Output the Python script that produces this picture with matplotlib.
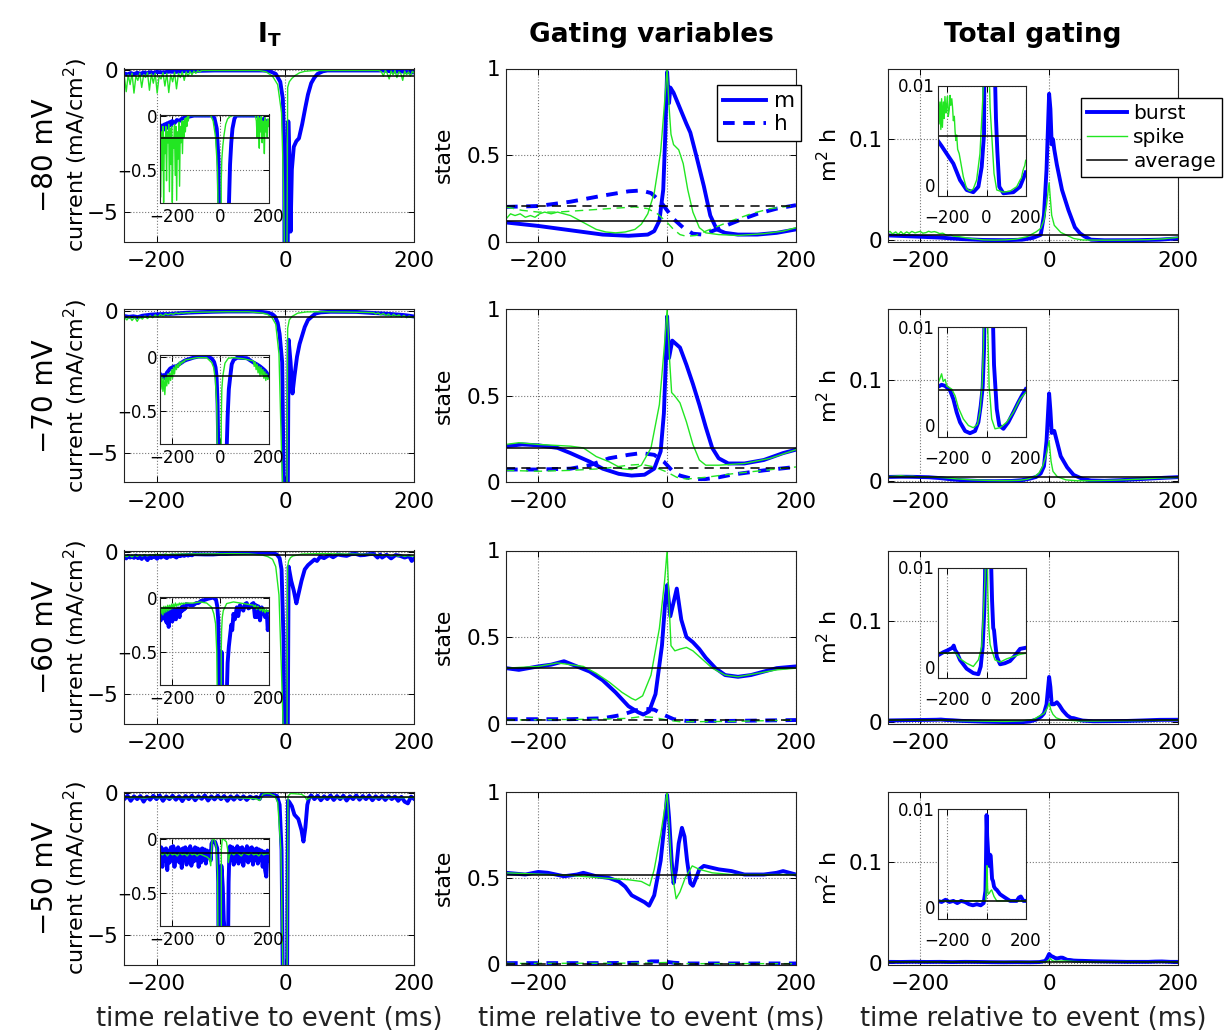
import numpy as np
import matplotlib
matplotlib.use("Agg")
import matplotlib.pyplot as plt
from matplotlib.lines import Line2D

plt.rcParams['font.family'] = ['DejaVu Sans']
plt.rcParams['mathtext.default'] = 'regular'


def series(*parts):
    # parts: (t0, t1, values) evenly spaced noisy stretch, or list of (t, v) pairs
    ts, vs = [], []
    for p in parts:
        if isinstance(p, tuple):
            t0, t1, vals = p
            ts += list(np.linspace(t0, t1, len(vals)))
            vs += list(vals)
        else:
            for t, v in p:
                ts.append(t)
                vs.append(v)
    return np.array(ts), np.array(vs)


row_names = ['\u221280 mV', '\u221270 mV', '\u221260 mV', '\u221250 mV']

# ---------------- I_T (current) ----------------
it80_burst = series(
    (-250, -200, [-0.1, -0.14, -0.09, -0.13, -0.08, -0.12, -0.07, -0.1, -0.06, -0.09, -0.05]),
    [(-190, -0.07), (-180, -0.04), (-170, -0.05), (-160, -0.03), (-150, -0.02), (-130, -0.01),
     (-110, 0), (-35, 0), (-25, -0.02), (-15, -0.12), (-8, -0.4), (-4, -1.0), (-2, -2.5),
     (-1, -9), (3, -9), (4.5, -1.8), (6.5, -3.5), (8, -5.7), (10, -3.5), (13, -2.7), (17, -2.5),
     (21, -2.4), (26, -1.9), (31, -1.3), (35, -0.85), (40, -0.45), (45, -0.25), (50, -0.12),
     (58, -0.03), (65, 0), (150, 0), (160, -0.02), (170, -0.04), (180, -0.03), (190, -0.06),
     (200, -0.07)])
it80_spike = series(
    (-250, -130, [-0.2, -0.75, -0.15, -0.5, -0.1, -0.8, -0.2, -0.35, -0.1, -0.6,
                  -0.15, -0.25, -0.08, -0.7, -0.12, -0.45, -0.1, -0.8, -0.2, -0.3,
                  -0.08, -0.55, -0.1, -0.78, -0.15, -0.4, -0.06, -0.65, -0.1, -0.25,
                  -0.05, -0.35, -0.05, -0.2, -0.03, -0.15, -0.02, -0.1, -0.01, -0.05, 0.0]),
    [(-120, 0), (-40, 0), (-30, -0.05), (-20, -0.2), (-12, -0.5), (-6, -1.5), (-3, -4),
     (0, -9), (2, -9), (3.5, -0.6), (6, -0.4), (10, -0.28), (15, -0.18), (22, -0.08),
     (30, -0.03), (45, 0), (145, 0)],
    (149, 200, [-0.05, -0.2, 0, -0.1, -0.3, -0.02, -0.15, 0, -0.25, -0.05, -0.1, -0.35,
                -0.02, -0.15, -0.05, -0.2, -0.03, -0.1]))
it80_avg = -0.21

it70_burst = series(
    [(-250, -0.16), (-243, -0.19), (-236, -0.17), (-229, -0.2), (-222, -0.15), (-215, -0.13),
     (-208, -0.11), (-200, -0.1), (-190, -0.09), (-181, -0.09), (-170, -0.07), (-160, -0.055),
     (-150, -0.04), (-140, -0.03), (-125, -0.02), (-112, -0.01), (-90, 0), (-50, 0),
     (-35, -0.02), (-26, -0.05), (-20, -0.1), (-16, -0.18), (-12, -0.4), (-9, -0.8),
     (-5, -1.8), (-1, -9), (3, -9), (5, -1.0), (8, -1.8), (11, -2.9), (14, -2.3), (18, -1.6),
     (22, -1.15), (26, -0.85), (30, -0.55), (35, -0.3), (40, -0.2), (47, -0.07), (55, -0.03),
     (70, -0.01), (110, -0.015), (137, -0.055), (150, -0.07), (164, -0.09), (175, -0.11),
     (185, -0.13), (192, -0.15), (200, -0.18)])
it70_spike = series(
    (-250, -142, [-0.21, -0.3, -0.18, -0.32, -0.2, -0.35, -0.19, -0.27, -0.16, -0.25,
                  -0.15, -0.22, -0.12, -0.2, -0.1, -0.16, -0.08, -0.12, -0.07, -0.1,
                  -0.05, -0.08, -0.05, -0.06, -0.04, -0.05, -0.03, -0.03]),
    [(-120, -0.02), (-98, -0.01), (-57, -0.01), (-36, -0.055), (-28, -0.1), (-21, -0.21),
     (-15, -0.45), (-10, -1.5), (-6, -5), (0, -9), (2, -9), (3.5, -0.6), (6, -0.3),
     (10, -0.18), (19, -0.06), (33, -0.015), (54, -0.01), (95, -0.02), (137, -0.04)],
    (140, 200, [-0.09, -0.05, -0.12, -0.07, -0.15, -0.09, -0.18, -0.1, -0.17, -0.12,
                -0.2, -0.14, -0.22, -0.16, -0.21, -0.2]))
it70_avg = -0.18

it60_burst = series(
    (-250, -142, [-0.15, -0.21, -0.12, -0.18, -0.14, -0.19, -0.11, -0.2, -0.15, -0.23,
                  -0.13, -0.19, -0.27, -0.14, -0.2, -0.12, -0.17, -0.22, -0.13, -0.18,
                  -0.11, -0.16, -0.2, -0.12, -0.15, -0.1, -0.14, -0.18, -0.1, -0.13,
                  -0.09, -0.12, -0.08, -0.11, -0.07, -0.1, -0.06]),
    [(-125, -0.07), (-112, -0.07), (-100, -0.05), (-91, -0.05), (-80, -0.03), (-70, -0.025),
     (-50, -0.01), (-30, 0.0), (-18, -0.02), (-13, -0.08), (-9, -0.2), (-6, -0.6), (-3, -3),
     (-1, -9), (3, -9), (5, -0.5), (9, -1.0), (13, -1.35), (17, -1.8), (20, -1.5), (25, -1.0),
     (30, -0.6), (35, -0.45), (40, -0.35), (45, -0.25), (49, -0.3), (54, -0.15), (60, -0.2),
     (68, -0.09), (74, -0.17), (81, -0.07), (88, -0.1), (95, -0.12), (102, -0.06),
     (109, -0.05), (116, -0.1), (123, -0.09), (130, -0.06), (137, -0.05), (143, -0.18),
     (147, -0.07), (150, -0.18), (157, -0.08), (164, -0.21), (171, -0.09), (178, -0.12),
     (185, -0.18), (192, -0.13), (196, -0.3), (200, -0.2)])
it60_spike = series(
    (-250, -142, [-0.1, -0.15, -0.09, -0.16, -0.08, -0.14, -0.08, -0.13, -0.07, -0.12,
                  -0.07, -0.11, -0.06, -0.1, -0.06, -0.09, -0.05, -0.08, -0.06, -0.07,
                  -0.05, -0.07, -0.05, -0.06, -0.05, -0.06, -0.05, -0.05]),
    [(-112, -0.05), (-84, -0.04), (-57, -0.05), (-36, -0.09), (-27, -0.15), (-20, -0.24),
     (-15, -0.5), (-10, -1.5), (-5, -5), (0, -9), (2, -9), (3.5, -0.5), (5, -0.3), (8, -0.18),
     (12, -0.12), (26, -0.055), (54, -0.04), (95, -0.055), (137, -0.07)],
    (140, 200, [-0.09, -0.07, -0.11, -0.08, -0.1, -0.12, -0.09, -0.13, -0.1, -0.14, -0.11,
                -0.13, -0.12]))
it60_avg = -0.098

it50_burst = series(
    (-250, -40, [-0.2, -0.08, -0.26, -0.1, -0.2, -0.09, -0.29, -0.11, -0.22, -0.08,
                 -0.2, -0.07, -0.26, -0.1, -0.2, -0.08, -0.22, -0.1, -0.27, -0.09,
                 -0.2, -0.08, -0.24, -0.1, -0.19, -0.07, -0.25, -0.1, -0.21, -0.08,
                 -0.2, -0.09, -0.26, -0.1, -0.22, -0.09, -0.2, -0.1, -0.23, -0.11,
                 -0.17, -0.12, -0.2]),
    [(-37, -0.05), (-32, -0.025), (-22, -0.03), (-13, -0.09), (-9, -0.4), (-6, -2),
     (-3, -9), (2, -9), (4, -0.25), (6, -0.3), (10, -0.45), (14, -0.75), (20, -0.9),
     (25, -1.3), (28, -1.7), (31, -1.2), (34, -0.4), (37, -0.15), (40, -0.07)],
    (45, 200, [-0.2, -0.08, -0.24, -0.1, -0.2, -0.07, -0.23, -0.09, -0.2, -0.08,
               -0.25, -0.1, -0.2, -0.07, -0.22, -0.09, -0.2, -0.08, -0.24, -0.1,
               -0.2, -0.09, -0.23, -0.1, -0.2, -0.11, -0.26, -0.12, -0.29, -0.35,
               -0.11, -0.2]))
it50_spike = series(
    (-250, -45, [-0.12, -0.15, -0.13, -0.16, -0.13, -0.15, -0.14, -0.16, -0.13, -0.15,
                 -0.14, -0.16, -0.13, -0.15, -0.14, -0.16, -0.14, -0.15, -0.16, -0.17, -0.19]),
    [(-40, -0.25), (-35, -0.03), (-30, 0.0), (-24, -0.01), (-17, -0.08), (-12, -0.3),
     (-7, -2), (-2, -9), (2, -9), (4, -0.1), (8, 0.0), (15, -0.01), (25, -0.03), (30, -0.1),
     (33, -0.22), (38, -0.15)],
    (45, 200, [-0.13, -0.15, -0.13, -0.14, -0.16, -0.13, -0.14, -0.15, -0.13, -0.15,
               -0.14, -0.16, -0.13, -0.15, -0.14, -0.14]))
it50_avg = -0.137

# ---------------- gating variables m, h ----------------
m80_burst = series([(-250, 0.11), (-200, 0.09), (-150, 0.065), (-100, 0.04), (-60, 0.033),
                    (-30, 0.04), (-20, 0.06), (-12, 0.12), (-6, 0.3), (-3, 0.6), (0, 0.98),
                    (2, 0.85), (3, 0.8), (5, 0.89), (10, 0.86), (20, 0.77), (30, 0.68),
                    (36, 0.63), (45, 0.5), (57, 0.32), (67, 0.15), (77, 0.07), (90, 0.05),
                    (110, 0.04), (140, 0.04), (170, 0.05), (200, 0.07)])
m80_spike = series([(-250, 0.13), (-243, 0.16), (-236, 0.15), (-228, 0.16), (-220, 0.14),
                    (-212, 0.15), (-205, 0.14), (-198, 0.16), (-190, 0.17), (-180, 0.16),
                    (-170, 0.17), (-160, 0.16), (-150, 0.15), (-140, 0.13), (-125, 0.1),
                    (-110, 0.07), (-95, 0.055), (-80, 0.05), (-65, 0.055), (-50, 0.07),
                    (-40, 0.1), (-30, 0.16), (-20, 0.28), (-10, 0.52), (-4, 0.8), (0, 1.0),
                    (3, 0.78), (6, 0.62), (10, 0.56), (18, 0.53), (25, 0.45), (32, 0.3),
                    (40, 0.17), (50, 0.08), (60, 0.05), (80, 0.04), (110, 0.035),
                    (150, 0.045), (180, 0.06), (200, 0.08)])
h80_burst = series([(-250, 0.2), (-200, 0.205), (-150, 0.23), (-100, 0.265), (-60, 0.29),
                    (-40, 0.295), (-25, 0.28), (-10, 0.23), (0, 0.18), (10, 0.13), (25, 0.08),
                    (40, 0.045), (55, 0.04), (70, 0.06), (90, 0.09), (110, 0.12), (140, 0.16),
                    (170, 0.19), (200, 0.21)])
h80_spike = series([(-250, 0.2), (-225, 0.18), (-200, 0.17), (-170, 0.17), (-130, 0.18),
                    (-90, 0.19), (-50, 0.2), (-30, 0.19), (-15, 0.16), (0, 0.11), (10, 0.07),
                    (20, 0.04), (30, 0.03), (45, 0.035), (60, 0.06), (80, 0.09), (100, 0.12),
                    (130, 0.16), (160, 0.19), (200, 0.21)])
m80_avg, h80_avg = 0.12, 0.207

m70_burst = series([(-250, 0.21), (-225, 0.22), (-200, 0.215), (-170, 0.2), (-150, 0.17),
                    (-120, 0.12), (-100, 0.08), (-75, 0.05), (-55, 0.04), (-35, 0.045),
                    (-20, 0.08), (-10, 0.18), (-5, 0.4), (-2, 0.7), (0, 0.96), (3, 0.72),
                    (8, 0.82), (20, 0.78), (30, 0.68), (40, 0.57), (50, 0.45), (60, 0.32),
                    (70, 0.2), (80, 0.14), (95, 0.11), (120, 0.11), (150, 0.13), (180, 0.17),
                    (200, 0.19)])
m70_spike = series([(-250, 0.22), (-230, 0.23), (-200, 0.22), (-150, 0.21), (-130, 0.2),
                    (-110, 0.15), (-90, 0.12), (-70, 0.08), (-55, 0.075), (-40, 0.1),
                    (-25, 0.2), (-12, 0.45), (-4, 0.8), (0, 1.0), (4, 0.7), (7, 0.52),
                    (12, 0.5), (20, 0.46), (30, 0.35), (40, 0.22), (50, 0.13), (60, 0.1),
                    (80, 0.1), (120, 0.11), (160, 0.14), (200, 0.19)])
h70_burst = series([(-250, 0.075), (-200, 0.075), (-150, 0.08), (-120, 0.1), (-90, 0.14),
                    (-60, 0.16), (-40, 0.17), (-20, 0.16), (-5, 0.12), (0, 0.1), (10, 0.06),
                    (20, 0.04), (40, 0.02), (60, 0.02), (80, 0.03), (100, 0.045), (150, 0.07),
                    (200, 0.09)])
h70_spike = series([(-250, 0.07), (-200, 0.065), (-150, 0.07), (-100, 0.08), (-60, 0.1),
                    (-40, 0.105), (-20, 0.09), (0, 0.06), (15, 0.03), (30, 0.02), (60, 0.03),
                    (100, 0.05), (150, 0.07), (200, 0.09)])
m70_avg, h70_avg = 0.198, 0.081

m60_burst = series([(-250, 0.32), (-230, 0.31), (-200, 0.33), (-180, 0.34), (-160, 0.36),
                    (-140, 0.33), (-120, 0.3), (-100, 0.25), (-80, 0.18), (-60, 0.1),
                    (-45, 0.065), (-37, 0.052), (-28, 0.07), (-18, 0.17), (-8, 0.45),
                    (-3, 0.7), (0, 0.8), (5, 0.62), (15, 0.78), (22, 0.6), (30, 0.5),
                    (40, 0.47), (50, 0.43), (60, 0.38), (75, 0.32), (90, 0.28), (110, 0.27),
                    (130, 0.28), (150, 0.3), (170, 0.32), (200, 0.33)])
m60_spike = series([(-250, 0.32), (-200, 0.33), (-170, 0.35), (-150, 0.34), (-130, 0.33),
                    (-110, 0.29), (-90, 0.24), (-70, 0.18), (-55, 0.145), (-49, 0.135),
                    (-38, 0.16), (-25, 0.28), (-12, 0.55), (-4, 0.82), (0, 1.0), (3, 0.7),
                    (6, 0.45), (12, 0.42), (20, 0.43), (30, 0.44), (40, 0.42), (55, 0.37),
                    (70, 0.32), (90, 0.28), (110, 0.27), (140, 0.29), (170, 0.31),
                    (200, 0.32)])
h60_burst = series([(-250, 0.025), (-150, 0.025), (-100, 0.03), (-70, 0.05), (-50, 0.075),
                    (-35, 0.085), (-20, 0.08), (-5, 0.05), (10, 0.025), (30, 0.015),
                    (100, 0.015), (200, 0.02)])
h60_spike = series([(-250, 0.02), (-100, 0.025), (-60, 0.03), (-40, 0.04), (-20, 0.035),
                    (0, 0.02), (20, 0.01), (100, 0.012), (200, 0.02)])
m60_avg, h60_avg = 0.321, 0.02

m50_burst = series([(-250, 0.53), (-220, 0.52), (-200, 0.535), (-185, 0.53), (-160, 0.51),
                    (-140, 0.52), (-130, 0.53), (-110, 0.51), (-90, 0.5), (-75, 0.48),
                    (-65, 0.45), (-55, 0.4), (-45, 0.38), (-35, 0.36), (-28, 0.34),
                    (-20, 0.4), (-10, 0.6), (-3, 0.85), (0, 0.98), (3, 0.85), (7, 0.6),
                    (10, 0.47), (14, 0.55), (18, 0.7), (23, 0.79), (27, 0.74), (31, 0.6),
                    (36, 0.47), (40, 0.455), (45, 0.5), (50, 0.55), (57, 0.57), (80, 0.55),
                    (100, 0.54), (120, 0.52), (150, 0.52), (170, 0.53), (180, 0.54),
                    (200, 0.52)])
m50_spike = series([(-250, 0.53), (-150, 0.515), (-100, 0.5), (-60, 0.49), (-40, 0.48),
                    (-27, 0.455), (-20, 0.55), (-10, 0.75), (-3, 0.92), (0, 1.0), (3, 0.8),
                    (7, 0.55), (14, 0.38), (20, 0.42), (28, 0.5), (39, 0.57), (50, 0.55),
                    (70, 0.53), (100, 0.52), (200, 0.52)])
h50_burst = series([(-250, 0.008), (-100, 0.008), (-40, 0.01), (-25, 0.018), (-10, 0.018),
                    (0, 0.015), (10, 0.01), (30, 0.006), (200, 0.006)])
h50_spike = series([(-250, 0.006), (-30, 0.008), (0, 0.012), (15, 0.005), (200, 0.005)])
m50_avg, h50_avg = 0.52, 0.005

# ---------------- total gating m^2 h ----------------
g80_burst = series([(-250, 0.005), (-230, 0.0045), (-204, 0.0038), (-170, 0.0029),
                    (-136, 0.0014), (-102, 0.0005), (-68, 0.0003), (-42, 0.0008),
                    (-25, 0.0026), (-13, 0.0056), (-8, 0.025), (-4, 0.07), (0, 0.145),
                    (2, 0.13), (4, 0.095), (6, 0.1), (8, 0.09), (12, 0.075), (20, 0.05),
                    (30, 0.03), (40, 0.013), (48, 0.007), (55, 0.004), (65, 0.0008),
                    (86, 0.0002), (137, 0.0003), (171, 0.0008), (200, 0.0021)])
g80_spike = series([(-250, 0.0077), (-247, 0.009), (-243, 0.0065), (-238, 0.0085),
                    (-234, 0.006), (-230, 0.0088), (-226, 0.0062), (-221, 0.0085),
                    (-217, 0.007), (-213, 0.009), (-208, 0.0075), (-204, 0.0083),
                    (-200, 0.009), (-196, 0.0072), (-191, 0.0078), (-187, 0.0091),
                    (-183, 0.0082), (-178, 0.0088), (-174, 0.008), (-170, 0.0068),
                    (-165, 0.0072), (-161, 0.0058), (-157, 0.005), (-153, 0.0055),
                    (-148, 0.0042), (-140, 0.0038), (-119, 0.0017), (-102, 0.0006),
                    (-85, 0.0004), (-68, 0.0006), (-51, 0.0014), (-34, 0.0038), (-20, 0.0086),
                    (-13, 0.012), (-8, 0.02), (-4, 0.035), (0, 0.057), (4, 0.025), (8, 0.015),
                    (18, 0.008), (26, 0.0056), (38, 0.002), (52, 0.0005), (86, 0.0003),
                    (120, 0.0004), (154, 0.0008), (171, 0.0014), (178, 0.0016), (185, 0.0022),
                    (190, 0.0025), (195, 0.0027), (200, 0.0032)])
g80_avg = 0.0054

g70_burst = series([(-250, 0.0045), (-230, 0.0047), (-212, 0.0046), (-187, 0.0042),
                    (-170, 0.0034), (-153, 0.0022), (-136, 0.0013), (-110, 0.0005),
                    (-85, 0.0003), (-59, 0.0005), (-42, 0.0013), (-30, 0.0028), (-20, 0.0045),
                    (-13, 0.008), (-8, 0.015), (-4, 0.04), (0, 0.087), (2, 0.07), (4, 0.048),
                    (8, 0.05), (12, 0.04), (18, 0.025), (28, 0.014), (38, 0.0065),
                    (45, 0.0045), (52, 0.0025), (65, 0.001), (86, 0.0007), (111, 0.0013),
                    (137, 0.0022), (162, 0.0031), (180, 0.0037), (200, 0.0043)])
g70_spike = series([(-250, 0.0048), (-240, 0.0052), (-230, 0.0057), (-222, 0.005),
                    (-212, 0.0052), (-204, 0.0046), (-178, 0.0043), (-161, 0.0037),
                    (-144, 0.0026), (-119, 0.0016), (-93, 0.001), (-68, 0.0008),
                    (-47, 0.0011), (-34, 0.0022), (-23, 0.0046), (-16, 0.008), (-10, 0.015),
                    (-5, 0.025), (0, 0.04), (3, 0.02), (6, 0.01), (13, 0.0045), (18, 0.0035),
                    (26, 0.0016), (43, 0.0007), (69, 0.0008), (103, 0.0013), (137, 0.0022),
                    (171, 0.0034), (200, 0.004)])
g70_avg = 0.0042

g60_burst = series([(-250, 0.002), (-221, 0.0023), (-196, 0.0025), (-175, 0.0027),
                    (-168, 0.0029), (-161, 0.0025), (-150, 0.0022), (-136, 0.0016),
                    (-102, 0.0008), (-68, 0.0004), (-42, 0.0003), (-30, 0.001), (-20, 0.0028),
                    (-12, 0.006), (-8, 0.009), (-4, 0.018), (0, 0.045), (2, 0.035), (4, 0.018),
                    (8, 0.018), (12, 0.02), (16, 0.017), (21, 0.012), (28, 0.007),
                    (34, 0.0045), (38, 0.0043), (45, 0.003), (52, 0.0019), (69, 0.0012),
                    (94, 0.0013), (120, 0.0015), (145, 0.002), (171, 0.0026), (200, 0.0027)])
g60_spike = series([(-250, 0.0023), (-221, 0.0022), (-196, 0.0022), (-161, 0.0023),
                    (-136, 0.0017), (-102, 0.0013), (-68, 0.001), (-42, 0.0016),
                    (-25, 0.0028), (-16, 0.006), (-8, 0.009), (-3, 0.014), (0, 0.019),
                    (3, 0.012), (6, 0.008), (11, 0.0046), (18, 0.003), (26, 0.0025),
                    (43, 0.0016), (69, 0.0014), (103, 0.0017), (137, 0.0019), (171, 0.0021),
                    (200, 0.0022)])
g60_avg = 0.0022

g50_burst = series([(-250, 0.0016), (-230, 0.0015), (-210, 0.0017), (-190, 0.0015),
                    (-170, 0.0016), (-150, 0.0014), (-130, 0.0016), (-110, 0.0015),
                    (-90, 0.0013), (-70, 0.0012), (-50, 0.0013), (-30, 0.0012),
                    (-15, 0.0014), (-6, 0.0025), (-3, 0.0054), (0, 0.0094), (3, 0.0075),
                    (7, 0.0063), (11, 0.0048), (14, 0.0052), (18, 0.0058), (21, 0.0057),
                    (25, 0.0045), (28, 0.0036), (33, 0.0034), (38, 0.0029), (45, 0.0027),
                    (52, 0.0026), (69, 0.0022), (94, 0.0019), (120, 0.0016), (154, 0.0016),
                    (165, 0.0019), (175, 0.002), (188, 0.0016), (200, 0.0016)])
g50_spike = series([(-250, 0.0016), (-150, 0.0016), (-60, 0.0016), (-5, 0.0016), (-1, 0.003),
                    (2, 0.0048), (5, 0.0028), (8, 0.0022), (14, 0.0023), (20, 0.0025),
                    (26, 0.0026), (32, 0.0023), (38, 0.002), (52, 0.0016), (200, 0.0016)])
g50_avg = 0.0016

it_rows = [(it80_burst, it80_spike, it80_avg), (it70_burst, it70_spike, it70_avg),
           (it60_burst, it60_spike, it60_avg), (it50_burst, it50_spike, it50_avg)]
gv_rows = [(m80_burst, m80_spike, h80_burst, h80_spike, m80_avg, h80_avg),
           (m70_burst, m70_spike, h70_burst, h70_spike, m70_avg, h70_avg),
           (m60_burst, m60_spike, h60_burst, h60_spike, m60_avg, h60_avg),
           (m50_burst, m50_spike, h50_burst, h50_spike, m50_avg, h50_avg)]
tg_rows = [(g80_burst, g80_spike, g80_avg), (g70_burst, g70_spike, g70_avg),
           (g60_burst, g60_spike, g60_avg), (g50_burst, g50_spike, g50_avg)]

# ---------------- figure ----------------
W, H = 1231, 1036
fig = plt.figure(figsize=(W / 100, H / 100), dpi=100)

BLUE = '#0000ff'
GREEN = '#22e622'
LW_B, LW_S, LW_A = 2.8, 1.0, 1.1
TICK_FS, INSET_FS = 15.5, 12

col_left = [124.3, 506, 888]
col_w = 290
row_top = [68.5, 309.5, 550.5, 791.5]
row_h = 173


def px_axes(left, top, width, height):
    return fig.add_axes([left / W, 1 - (top + height) / H, width / W, height / H])


def style(ax, yticks, ylabels, fs, xpad=7, ypad=4):
    ax.set_xlim(-250, 200)
    ax.set_xticks([-200, 0, 200])
    ax.set_xticklabels(['\u2212200', '0', '200'])
    ax.set_yticks(yticks)
    ax.set_yticklabels(ylabels)
    ax.grid(True, linestyle=':', color='#777777', linewidth=0.8)
    ax.tick_params(direction='in', top=True, right=True, length=4, width=0.7,
                   labelsize=fs)
    ax.tick_params(axis='x', pad=xpad)
    ax.tick_params(axis='y', pad=ypad)
    for s in ax.spines.values():
        s.set_linewidth(0.8)
        s.set_color('#222222')


def two_traces(ax, burst, spike, avg):
    ax.plot(*burst, color=BLUE, lw=LW_B, solid_joinstyle='round')
    ax.plot(*spike, color=GREEN, lw=LW_S)
    ax.axhline(avg, color='k', lw=LW_A)


for r in range(4):
    top = row_top[r]

    # I_T
    ax = px_axes(col_left[0], top, col_w, row_h)
    burst, spike, avg = it_rows[r]
    two_traces(ax, burst, spike, avg)
    ax.set_ylim(-6.05, 0.07)
    style(ax, [-5, 0], ['\u22125', '0'], TICK_FS)
    ins = px_axes(160, top + 46, 108.7, 88)
    two_traces(ins, burst, spike, avg)
    ins.set_ylim(-0.8, 0.01)
    style(ins, [-0.5, 0], ['\u22120.5', '0'], INSET_FS, xpad=4, ypad=2)

    # gating variables
    ax = px_axes(col_left[1], top, col_w, row_h)
    mb, ms, hb, hs, ma, ha = gv_rows[r]
    lm, = ax.plot(*mb, color=BLUE, lw=LW_B)
    lh, = ax.plot(*hb, color=BLUE, lw=LW_B, ls=(0, (3, 2.2)))
    ax.plot(*ms, color=GREEN, lw=LW_S)
    ax.plot(*hs, color=GREEN, lw=LW_S, ls=(0, (6, 4)))
    ax.axhline(ma, color='k', lw=LW_A)
    ax.axhline(ha, color='k', lw=LW_A, ls=(0, (6, 4)))
    ax.set_ylim(0, 1)
    style(ax, [0, 0.5, 1], ['0', '0.5', '1'], TICK_FS)
    if r == 0:
        ax.legend([lm, lh], ['m', 'h'], loc='upper left',
                  bbox_to_anchor=(706 / W, 1 - 74 / H), bbox_transform=fig.transFigure,
                  fontsize=TICK_FS, handlelength=2.0, handletextpad=0.35, borderpad=0.3,
                  labelspacing=0.15, fancybox=False, framealpha=1, edgecolor='k')

    # total gating
    ax = px_axes(col_left[2], top, col_w, row_h)
    burst, spike, avg = tg_rows[r]
    two_traces(ax, burst, spike, avg)
    ax.set_ylim(-0.001, 0.17)
    style(ax, [0, 0.1], ['0', '0.1'], TICK_FS)
    if r == 0:
        handles = [Line2D([], [], color=BLUE, lw=LW_B), Line2D([], [], color=GREEN, lw=LW_S),
                   Line2D([], [], color='k', lw=LW_A)]
        ax.legend(handles, ['burst', 'spike', 'average'], loc='upper left',
                  bbox_to_anchor=(1071 / W, 1 - 88 / H), bbox_transform=fig.transFigure,
                  fontsize=14.5, handlelength=2.0, handletextpad=0.3, borderpad=0.3,
                  labelspacing=0.25, fancybox=False, framealpha=1, edgecolor='k')
    ins = px_axes(937.7, top + 17, 88, 110)
    two_traces(ins, burst, spike, avg)
    ins.set_ylim(0, 0.01)
    style(ins, [0, 0.01], ['0', '0.01'], INSET_FS, xpad=10, ypad=2)
    ins.get_yticklabels()[0].set_verticalalignment('bottom')

    # row label and y labels
    yc = 1 - (top + row_h / 2) / H
    fig.text(45 / W, yc, row_names[r], rotation=90, ha='center', va='center', fontsize=20)
    fig.text(76 / W, yc, 'current (mA/cm$^2$)', rotation=90, ha='center', va='center',
             fontsize=16)
    fig.text(444 / W, yc, 'state', rotation=90, ha='center', va='center', fontsize=16)
    fig.text(829 / W, yc, 'm$^2$ h', rotation=90, ha='center', va='center', fontsize=16)

titles = ['I$_\\mathbf{T}$', 'Gating variables', 'Total gating']
for c in range(3):
    xc = (col_left[c] + col_w / 2) / W
    fig.text(xc, 1 - 35 / H, titles[c], ha='center', va='center', fontsize=19,
             fontweight='bold')
    fig.text(xc, 1 - 1019 / H, 'time relative to event (ms)', ha='center', va='center',
             fontsize=18.5, color='#222222')

fig.savefig('out.png', dpi=100)
